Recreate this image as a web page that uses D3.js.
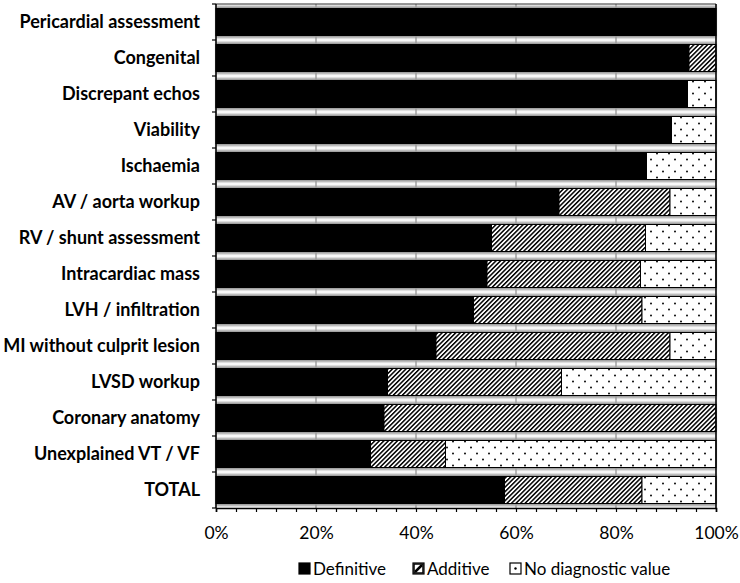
<!DOCTYPE html>
<html><head><meta charset="utf-8">
<script src="https://cdn.jsdelivr.net/npm/d3@7"></script>
<style>body{margin:0;background:#fff;} svg{display:block}</style>
</head><body><svg id="c" width="740" height="583"></svg>
<script>
const categories = ["Pericardial assessment","Congenital","Discrepant echos","Viability","Ischaemia","AV / aorta workup","RV / shunt assessment","Intracardiac mass","LVH / infiltration","MI without culprit lesion","LVSD workup","Coronary anatomy","Unexplained VT / VF","TOTAL"];
const definitive   = [100, 94.6, 94.3, 91.1, 86.1, 68.6, 55.1, 54.2, 51.5, 44.0, 34.3, 33.6, 30.9, 57.7];
const additive     = [0,    5.4,  0,    0,    0,   22.2, 30.8, 30.7, 33.7, 46.8, 34.8, 66.4, 15.0, 27.5];
const noDiagnostic = [0,    0,    5.7,  8.9, 13.9,  9.2, 14.1, 15.1, 14.8,  9.2, 30.9,  0,   54.1, 14.8];
const seriesNames = ["Definitive","Additive","No diagnostic value"];
const majorTicks = [0,20,40,60,80,100];

const rows = categories.map((c,i)=>({cat:c, "Definitive":definitive[i], "Additive":additive[i], "No diagnostic value":noDiagnostic[i]}));
const stack = d3.stack().keys(seriesNames)(rows);

const svg = d3.select("#c");
const L = 216, R = 716, T = 4, B = 508;
const x = d3.scaleLinear().domain([0,100]).range([L,R]);
const y = d3.scaleBand().domain(categories).range([T,B]).paddingInner(0.25).paddingOuter(0.125);

const defs = svg.append("defs");
const hatch = defs.append("pattern").attr("id","hatch").attr("patternUnits","userSpaceOnUse")
  .attr("width",3.2).attr("height",3.2).attr("patternTransform","rotate(45)");
hatch.append("rect").attr("width",3.2).attr("height",3.2).attr("fill","#fff");
hatch.append("rect").attr("width",1.5).attr("height",3.2).attr("fill","#000");
const dots = defs.append("pattern").attr("id","dots").attr("patternUnits","userSpaceOnUse")
  .attr("width",12).attr("height",12);
dots.append("rect").attr("width",12).attr("height",12).attr("fill","#fff");
dots.append("circle").attr("cx",3).attr("cy",3.5).attr("r",0.95).attr("fill","#000");
dots.append("circle").attr("cx",9).attr("cy",9.5).attr("r",0.95).attr("fill","#000");
const blur = defs.append("filter").attr("id","sh").attr("x","-5%").attr("y","-50%").attr("width","110%").attr("height","200%");
blur.append("feGaussianBlur").attr("stdDeviation",1.1);

const fills = {"Definitive":"#000","Additive":"url(#hatch)","No diagnostic value":"url(#dots)"};

// gridlines
svg.append("g").selectAll("line").data(majorTicks.filter(t=>t>0&&t<100)).join("line")
  .attr("x1",d=>x(d)).attr("x2",d=>x(d)).attr("y1",T).attr("y2",B)
  .attr("stroke","#8a8a8a").attr("stroke-width",1.2);

// shadows
svg.append("g").attr("filter","url(#sh)").selectAll("rect").data(categories).join("rect")
  .attr("x",L).attr("width",R-L).attr("y",d=>y(d)-2.5).attr("height",y.bandwidth()+5)
  .attr("fill","#9a9a9a");

// bars
svg.append("g").selectAll("g").data(stack).join("g")
  .attr("fill",s=>fills[s.key])
  .selectAll("rect").data(s=>s.filter(d=>d[1]-d[0]>0)).join("rect")
  .attr("x",d=>x(d[0])).attr("width",d=>x(d[1])-x(d[0]))
  .attr("y",d=>y(d.data.cat)).attr("height",y.bandwidth())
  .attr("stroke","#000").attr("stroke-width",1);

// borders
svg.append("line").attr("x1",L).attr("x2",R).attr("y1",T).attr("y2",T).attr("stroke","#333").attr("stroke-width",1.2);
svg.append("line").attr("x1",R).attr("x2",R).attr("y1",T).attr("y2",B).attr("stroke","#000").attr("stroke-width",1.6);

// x axis
const xa = svg.append("g").attr("transform",`translate(0,${B})`)
  .call(d3.axisBottom(x).tickValues(d3.range(0,101,4)).tickSize(4).tickPadding(15)
    .tickFormat(d=> d%20===0 ? d+"%" : ""));
xa.select(".domain").attr("stroke","#000").attr("stroke-width",1.6);
xa.selectAll("line").attr("stroke","#000").attr("stroke-width",1.2);
xa.selectAll("text").attr("font-family","Lato").attr("font-size",17.5).attr("fill","#000");

// y axis
svg.append("line").attr("x1",L).attr("x2",L).attr("y1",T).attr("y2",B).attr("stroke","#000").attr("stroke-width",1.6);
const bounds = categories.map(c=>y(c)-y.step()*y.paddingInner()/2).concat([B]);
svg.append("g").selectAll("line").data(bounds).join("line")
  .attr("x1",L-4).attr("x2",L).attr("y1",d=>d).attr("y2",d=>d).attr("stroke","#000").attr("stroke-width",1.2);
svg.append("g").selectAll("text").data(categories).join("text")
  .attr("x",L-16).attr("y",d=>y(d)+y.bandwidth()/2).attr("dy","0.35em")
  .attr("text-anchor","end").attr("font-family","Lato").attr("font-weight","bold").attr("font-size",18)
  .text(d=>d);

// legend
const legX = [299, 413, 510];
const lg = svg.append("g").selectAll("g").data(seriesNames).join("g")
  .attr("transform",(d,i)=>`translate(${legX[i]},563)`);
lg.append("rect").attr("width",11).attr("height",11).attr("fill",d=>d==="Definitive"?"#000":"#fff").attr("stroke","#000").attr("stroke-width",1.2);
lg.filter(d=>d==="Additive").append("path").attr("d","M2,9 L9,2").attr("stroke","#000").attr("stroke-width",2.5);
lg.filter(d=>d==="Additive").append("rect").attr("x",1).attr("y",1).attr("width",9).attr("height",9).attr("fill","none").attr("stroke","#000").attr("stroke-width",1.5);
lg.filter(d=>d==="No diagnostic value").append("circle").attr("cx",5.5).attr("cy",5.5).attr("r",1.2).attr("fill","#000");
lg.append("text").attr("x",14).attr("y",11.5).attr("font-family","Lato").attr("font-size",17).text(d=>d);
</script></body></html>
